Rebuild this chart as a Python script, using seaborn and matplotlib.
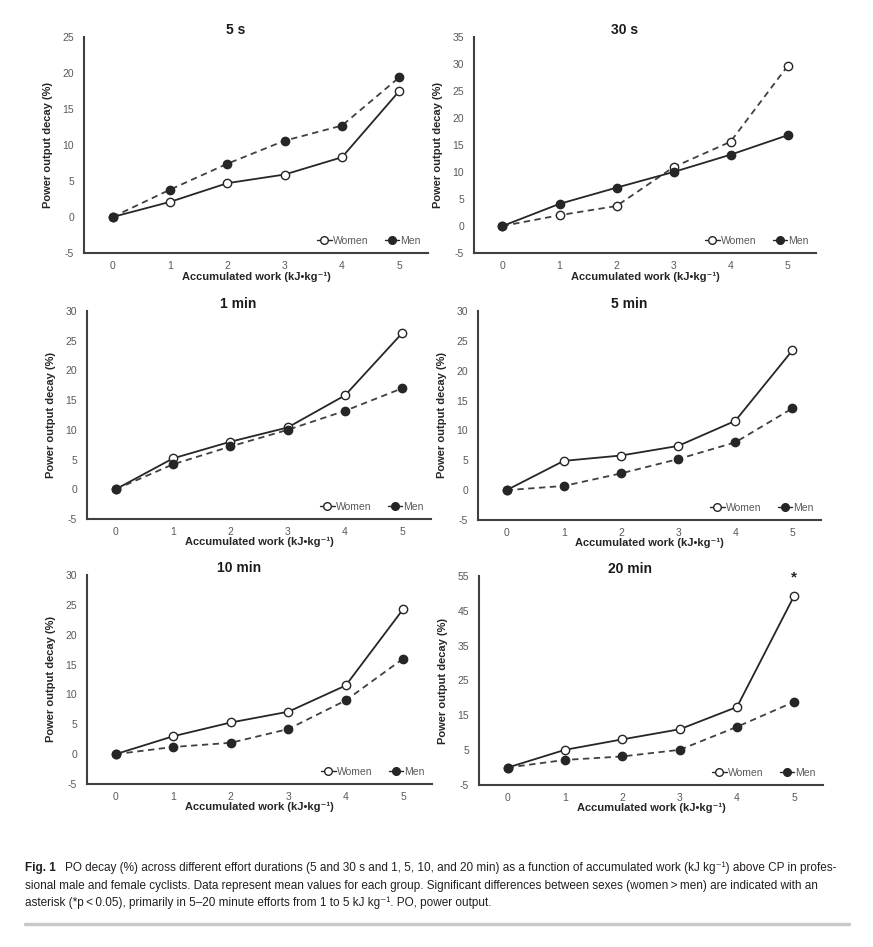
import matplotlib
matplotlib.use("Agg")
import matplotlib.pyplot as plt
import seaborn as sns
from matplotlib.lines import Line2D
from matplotlib import font_manager

# ---------------- data ----------------
work = [0, 1, 2, 3, 4, 5]
panel_titles = ["5 s", "30 s", "1 min", "5 min", "10 min", "20 min"]
women_5s = [0, 2.1, 4.7, 5.9, 8.3, 17.5]
men_5s = [0, 3.8, 7.4, 10.6, 12.7, 19.4]
women_30s = [0, 2.0, 3.7, 10.9, 15.6, 29.6]
men_30s = [0, 4.1, 7.1, 10.0, 13.2, 16.8]
women_1min = [0, 5.2, 8.0, 10.4, 15.8, 26.3]
men_1min = [0, 4.2, 7.2, 10.0, 13.2, 17.0]
women_5min = [0, 4.9, 5.8, 7.4, 11.6, 23.4]
men_5min = [0, 0.7, 2.8, 5.2, 8.0, 13.7]
women_10min = [0, 3.0, 5.3, 7.1, 11.5, 24.3]
men_10min = [0, 1.2, 1.9, 4.2, 9.0, 16.0]
women_20min = [0, 5.1, 8.1, 11.0, 17.4, 49.4]
men_20min = [0, 2.2, 3.2, 5.1, 11.7, 18.9]
y_top = [25, 35, 30, 30, 30, 55]
y_step = [5, 5, 5, 5, 5, 10]
y_bottom = -5
significant_at = [None, None, None, None, None, 5]

women_all = [women_5s, women_30s, women_1min, women_5min, women_10min, women_20min]
men_all = [men_5s, men_30s, men_1min, men_5min, men_10min, men_20min]
women_dashed = [False, True, False, False, False, False]

x_label = "Accumulated work (kJ\u2022kg\u207b\u00b9)"
y_label = "Power output decay (%)"

# ---------------- style ----------------
sns.set_theme(style="white")
avail = {f.name for f in font_manager.fontManager.ttflist}
base_font = "Liberation Sans" if "Liberation Sans" in avail else "DejaVu Sans"
cap_font = "Liberation Sans Narrow" if "Liberation Sans Narrow" in avail else base_font
plt.rcParams["font.family"] = [base_font, "DejaVu Sans"]
plt.rcParams["axes.unicode_minus"] = False

W, H = 873, 947
fig = plt.figure(figsize=(W / 100, H / 100), dpi=100)

# axes boxes in pixels: left, top, right, bottom
boxes = [
    (84, 37, 428, 253),
    (474, 37, 816, 253),
    (87, 311, 431, 519),
    (478, 311, 821, 520),
    (87, 575, 432, 784),
    (479, 576, 823, 785),
]

line_col = "#262626"
tick_col = "#595959"
spine_col = "#404040"

for i, (l, t, r, b) in enumerate(boxes):
    ax = fig.add_axes([l / W, 1 - b / H, (r - l) / W, (b - t) / H])
    w_ls = "--" if women_dashed[i] else "-"
    m_ls = "-" if women_dashed[i] else "--"
    sns.lineplot(x=work, y=women_all[i], ax=ax, color=line_col, linestyle=w_ls,
                 linewidth=1.3, marker="o", markersize=6, markerfacecolor="white",
                 markeredgecolor=line_col, markeredgewidth=1.0, legend=False, zorder=3)
    sns.lineplot(x=work, y=men_all[i], ax=ax, color=line_col, linestyle=m_ls,
                 linewidth=1.3, marker="o", markersize=6, markerfacecolor=line_col,
                 markeredgecolor=line_col, markeredgewidth=1.0, legend=False, zorder=4)
    for ln in ax.get_lines():
        if ln.get_linestyle() == "--":
            ln.set_dashes((3.5, 2.5))
            ln.set_color("#404040")
    ax.set_xlim(-0.5, 5.5)
    ax.set_ylim(y_bottom, y_top[i])
    ax.set_xticks(work)
    ax.set_yticks(list(range(y_bottom, y_top[i] + 1, y_step[i])))
    ax.tick_params(axis="both", length=0, labelsize=7.5, labelcolor=tick_col)
    ax.tick_params(axis="y", pad=7)
    ax.tick_params(axis="x", pad=6)
    for s in ["top", "right"]:
        ax.spines[s].set_visible(False)
    for s in ["left", "bottom"]:
        ax.spines[s].set_color(spine_col)
        ax.spines[s].set_linewidth(1.5)
    ax.set_xlabel(x_label, fontsize=8, fontweight="bold", color="#262626")
    ax.set_ylabel(y_label, fontsize=8, fontweight="bold", color="#262626")
    ax.xaxis.set_label_coords(0.5, -0.085)
    ax.yaxis.set_label_coords(-31 / (r - l), 0.5)
    ax.text(0.44, 1.0, panel_titles[i], transform=ax.transAxes, ha="center",
            va="bottom", fontsize=10, fontweight="bold", color="#1a1a1a")
    if significant_at[i] is not None:
        ax.text(significant_at[i], women_all[i][significant_at[i]] + 3.2, "*",
                ha="center", va="bottom", fontsize=11, fontweight="bold", color="#262626")
    handles = [
        Line2D([], [], color=line_col, linestyle="-", linewidth=1.0, marker="o",
               markersize=5.5, markerfacecolor="white", markeredgecolor=line_col),
        Line2D([], [], color=line_col, linestyle="-", linewidth=1.0, marker="o",
               markersize=5.5, markerfacecolor=line_col, markeredgecolor=line_col),
    ]
    ax.legend(handles, ["Women", "Men"], loc="lower right", ncol=2, frameon=False,
              fontsize=7.5, handlelength=1.4, handletextpad=0.1, columnspacing=1.6,
              borderaxespad=0.3, labelcolor=tick_col, bbox_to_anchor=(1.0, 0.0))

# ---------------- caption ----------------
cap_col = "#231f20"
lines = [
    "PO decay (%) across different effort durations (5 and 30 s and 1, 5, 10, and 20 min) as a function of accumulated work (kJ kg\u207b\u00b9) above CP in profes-",
    "sional male and female cyclists. Data represent mean values for each group. Significant differences between sexes (women\u2009>\u2009men) are indicated with an",
    "asterisk (*p\u2009<\u20090.05), primarily in 5\u201320 minute efforts from 1 to 5 kJ kg\u207b\u00b9. PO, power output.",
]
fam = [cap_font, "DejaVu Sans"]
probe = fig.text(0, 0, lines[1], fontsize=10, family=fam)
fig.canvas.draw()
wpx = probe.get_window_extent().width
probe.remove()
cap_size = 10 * (818 - 25) / wpx

fig.text(25 / W, 1 - 868 / H, "Fig. 1", fontsize=cap_size, fontweight="bold",
         family=fam, color=cap_col, va="center")
fig.text(65 / W, 1 - 868 / H, lines[0], fontsize=cap_size, family=fam, color=cap_col, va="center")
fig.text(25 / W, 1 - 886 / H, lines[1], fontsize=cap_size, family=fam, color=cap_col, va="center")
fig.text(25 / W, 1 - 903 / H, lines[2], fontsize=cap_size, family=fam, color=cap_col, va="center")

fig.add_artist(Line2D([25 / W, 849 / W], [1 - 924 / H, 1 - 924 / H],
                      color="#c8c8c8", linewidth=2.5, transform=fig.transFigure))

fig.savefig("out.png", dpi=100, facecolor="white")
